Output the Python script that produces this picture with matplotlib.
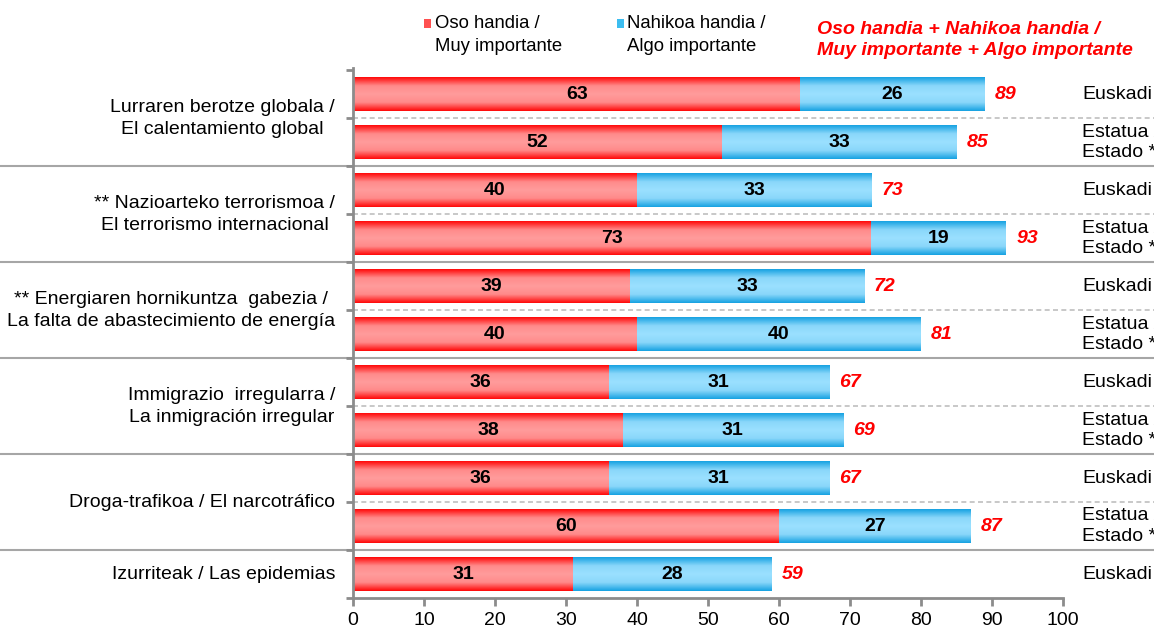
import numpy as np
import matplotlib
matplotlib.use("Agg")
import matplotlib.pyplot as plt
from matplotlib.colors import LinearSegmentedColormap
from matplotlib.transforms import blended_transform_factory
from matplotlib.patches import Rectangle

plt.rcParams['font.family'] = ['Liberation Sans', 'DejaVu Sans']

groups = [
    "Lurraren berotze globala /\nEl calentamiento global",
    "** Nazioarteko terrorismoa /\nEl terrorismo internacional",
    "** Energiaren hornikuntza  gabezia /\nLa falta de abastecimiento de energía",
    "Immigrazio  irregularra /\nLa inmigración irregular",
    "Droga-trafikoa / El narcotráfico",
    "Izurriteak / Las epidemias",
]
group_sizes = [2, 2, 2, 2, 2, 1]
regions = ["Euskadi", "Estatua /\nEstado *", "Euskadi", "Estatua /\nEstado *",
           "Euskadi", "Estatua /\nEstado *", "Euskadi", "Estatua /\nEstado *",
           "Euskadi", "Estatua /\nEstado *", "Euskadi"]
oso = [63, 52, 40, 73, 39, 40, 36, 38, 36, 60, 31]
nahikoa = [26, 33, 33, 19, 33, 40, 31, 31, 31, 27, 28]
totals = [89, 85, 73, 93, 72, 81, 67, 69, 67, 87, 59]
xticks = [0, 10, 20, 30, 40, 50, 60, 70, 80, 90, 100]

W, H = 1154, 630
fig = plt.figure(figsize=(W/100, H/100), dpi=100)
ax = fig.add_axes([353/W, 1-598/H, (1063-353)/W, (598-68)/H])

red_cmap = LinearSegmentedColormap.from_list("r", ["#FF0A0A", "#FF8A8A", "#FF9C9C", "#FF8A8A", "#FF0A0A"])
blue_cmap = LinearSegmentedColormap.from_list("b", ["#18A3E2", "#8AD7FA", "#9BE0FF", "#8AD7FA", "#18A3E2"])
grad = np.linspace(0, 1, 64).reshape(-1, 1)

FS = 14
n = len(oso)
bh = 0.7
for i in range(n):
    y = i
    for left, w, cmap in [(0, oso[i], red_cmap), (oso[i], nahikoa[i], blue_cmap)]:
        ax.imshow(grad, extent=[left, left + w, y + bh/2, y - bh/2], aspect='auto',
                  cmap=cmap, zorder=2, interpolation='bilinear')
    ax.text(oso[i] / 2, y, str(oso[i]), ha='center', va='center', fontsize=FS,
            fontweight='bold', color='black', zorder=4)
    ax.text(oso[i] + nahikoa[i] / 2, y, str(nahikoa[i]), ha='center', va='center',
            fontsize=FS, fontweight='bold', color='black', zorder=4)
    ax.text(oso[i] + nahikoa[i] + 1.4, y, str(totals[i]), ha='left', va='center',
            fontsize=FS, fontweight='bold', fontstyle='italic', color='#FF0000', zorder=4)
    ax.text(1082/W, y, regions[i], transform=blended_transform_factory(fig.transFigure, ax.transData),
            ha='left', va='center', fontsize=FS, color='black', linespacing=1.25, clip_on=False)

ax.set_xlim(0, 100)
ax.set_ylim(n - 0.5, -0.55)
ax.set_xticks(xticks)
ax.set_xticklabels([str(t) for t in xticks], fontsize=FS)
ax.set_yticks(np.arange(-0.5, n, 1.0))
ax.set_yticklabels([])
for s in ['top', 'right']:
    ax.spines[s].set_visible(False)
for s in ['left', 'bottom']:
    ax.spines[s].set_color('#8C8C8C')
    ax.spines[s].set_linewidth(2)
ax.tick_params(axis='y', direction='out', length=5, width=2, color='#8C8C8C')
ax.tick_params(axis='x', direction='out', length=6, width=2, color='#8C8C8C', pad=4)

# separators
tr = blended_transform_factory(fig.transFigure, ax.transData)
start = 0
for gi, (g, sz) in enumerate(zip(groups, group_sizes)):
    center = start + (sz - 1) / 2
    ax.text(335/W, center, g, transform=tr, ha='right', va='center', fontsize=FS,
            linespacing=1.4, multialignment='center', clip_on=False)
    if sz == 2:
        ax.plot([353/W, 1.0], [start + 0.5, start + 0.5], transform=tr, color='#BFBFBF',
                lw=1.2, ls=(0, (3, 2)), clip_on=False, zorder=1)
    if gi < len(groups) - 1:
        yb = start + sz - 0.5
        ax.plot([0, 1.0], [yb, yb], transform=tr, color='#A6A6A6', lw=1.5,
                clip_on=False, zorder=1)
    start += sz

# legend
fig.patches.append(Rectangle((424/W, 1-28/H), 7/W, 9/H, transform=fig.transFigure,
                             facecolor='#FF5050', edgecolor='none'))
fig.text(435/W, 1-35/H, "Oso handia /\nMuy importante", ha='left', va='center',
         fontsize=13.3, linespacing=1.5)
fig.patches.append(Rectangle((617/W, 1-28/H), 7/W, 9/H, transform=fig.transFigure,
                             facecolor='#3CBDF0', edgecolor='none'))
fig.text(627/W, 1-35/H, "Nahikoa handia /\nAlgo importante", ha='left', va='center',
         fontsize=13.3, linespacing=1.5)
fig.text(817/W, 1-40/H, "Oso handia + Nahikoa handia /\nMuy importante + Algo importante",
         ha='left', va='center', fontsize=14, fontweight='bold', fontstyle='italic',
         color='#FF0000', linespacing=1.3)

fig.savefig("out.png", dpi=100)
